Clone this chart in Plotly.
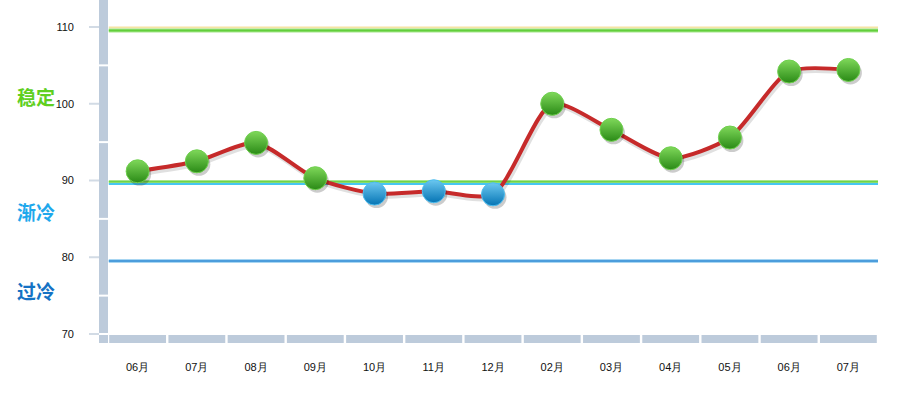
import plotly.graph_objects as go

months = ["06月", "07月", "08月", "09月", "10月", "11月", "12月",
          "02月", "03月", "04月", "05月", "06月", "07月"]
values = [91.2, 92.5, 94.9, 90.3, 88.3, 88.6, 88.2,
          100.0, 96.6, 92.9, 95.6, 104.2, 104.4]
y_ticks = [70, 80, 90, 100, 110]
minor_ticks = [75, 85, 95, 105]
zone_labels = ["稳定", "渐冷", "过冷"]
zone_label_colors = ["#5fcf1f", "#1ea8ec", "#1572c4"]
zone_label_pos = [0.72, 0.382, 0.152]
threshold = 90

W, H = 899, 397
L, R, T, B = 108, 21, 0, 54
pw = W - L - R
ph = H - T - B
y_lo, y_hi = 68.827, 113.518
px_per_unit = ph / (y_hi - y_lo)
px_per_cat = pw / len(months)

xs = list(range(len(months)))
band = "#bdcbdb"
smooth = 0.7

fig = go.Figure()

# line shadow
fig.add_trace(go.Scatter(
    x=[x + 1.5 / px_per_cat for x in xs],
    y=[v - 2.5 / px_per_unit for v in values],
    mode="lines", line=dict(color="rgba(0,0,0,0.12)", width=5, shape="spline", smoothing=smooth),
    hoverinfo="skip", showlegend=False))
# main line
fig.add_trace(go.Scatter(
    x=xs, y=values, mode="lines",
    line=dict(color="#c62a2a", width=4, shape="spline", smoothing=smooth),
    hoverinfo="skip", showlegend=False))
# marker shadows
fig.add_trace(go.Scatter(
    x=[x + 2 / px_per_cat for x in xs],
    y=[v - 3 / px_per_unit for v in values],
    mode="markers", marker=dict(size=23, color="rgba(0,0,0,0.2)", line=dict(width=0)),
    hoverinfo="skip", showlegend=False))

light = ["#7fd85a" if v >= threshold else "#6cc8f0" for v in values]
dark = ["#2a8a16" if v >= threshold else "#0574b4" for v in values]
edge = ["#6fd04e" if v >= threshold else "#4cbcee" for v in values]
fig.add_trace(go.Scatter(
    x=xs, y=values, mode="markers",
    marker=dict(size=23, color=light, line=dict(color=edge, width=1),
                gradient=dict(type="vertical", color=dark)),
    hovertemplate="%{y}<extra></extra>", showlegend=False))

shapes = []
# reference lines
def hline(val, color, width):
    shapes.append(dict(type="line", xref="paper", yref="y", x0=0.001, x1=1, y0=val, y1=val,
                       line=dict(color=color, width=width), layer="below"))

hline(109.93, "#f6e4a4", 2)
hline(109.55, "#a6e68c", 4)
hline(109.55, "#62cf3c", 2)
hline(89.85, "#a6e68c", 3.5)
hline(89.85, "#6fd34a", 1.5)
hline(89.55, "#46c6f2", 2)
hline(79.52, "#a8d6f2", 4)
hline(79.52, "#4c9ddc", 2)

# left vertical band
bx0 = (99 - L) / pw
bx1 = (108 - L) / pw
shapes.append(dict(type="rect", xref="paper", yref="paper", x0=bx0, x1=bx1, y0=0, y1=1,
                   fillcolor=band, line=dict(width=0), layer="above"))
for m in minor_ticks + [y_ticks[0]]:
    shapes.append(dict(type="line", xref="paper", yref="y", x0=bx0, x1=bx1 + 0.5 / pw, y0=m, y1=m,
                       line=dict(color="white", width=2), layer="above"))
# tick marks
tx0 = (89 - L) / pw
for t in y_ticks:
    shapes.append(dict(type="line", xref="paper", yref="y", x0=tx0, x1=bx0, y0=t, y1=t,
                       line=dict(color="#d2dbe5", width=2), layer="above"))
# bottom band segments
for i in xs:
    shapes.append(dict(type="rect", xref="x", yref="y",
                       x0=i - 0.5 + 1.2 / px_per_cat, x1=i + 0.5 - 1.2 / px_per_cat,
                       y0=y_lo, y1=y_ticks[0] - 1 / px_per_unit,
                       fillcolor=band, line=dict(width=0), layer="above"))

annotations = []
for txt, col, py in zip(zone_labels, zone_label_colors, zone_label_pos):
    annotations.append(dict(text="<b>" + txt + "</b>", xref="paper", yref="paper",
                            x=(36 - L) / pw, y=py, xanchor="center", yanchor="middle",
                            showarrow=False,
                            font=dict(family="Noto Sans CJK SC", size=19, color=col)))

fig.update_layout(
    width=W, height=H, margin=dict(l=L, r=R, t=T, b=B, autoexpand=False),
    paper_bgcolor="white", plot_bgcolor="white",
    shapes=shapes, annotations=annotations,
    xaxis=dict(range=[-0.5, len(months) - 0.5], tickvals=xs, ticktext=months,
               showgrid=False, zeroline=False, showline=False, ticks="",
               ticklabelstandoff=16, automargin=False,
               tickfont=dict(family="Liberation Sans, Arial", size=11, color="#111")),
    yaxis=dict(range=[y_lo, y_hi], tickvals=y_ticks,
               showgrid=False, zeroline=False, showline=False, ticks="",
               ticklabelstandoff=33, automargin=False,
               tickfont=dict(family="Liberation Sans, Arial", size=11, color="#111")),
)

fig.write_html("out.html", config={"displayModeBar": False},
               post_script="document.body.style.margin='0';document.body.style.overflow='hidden';")
